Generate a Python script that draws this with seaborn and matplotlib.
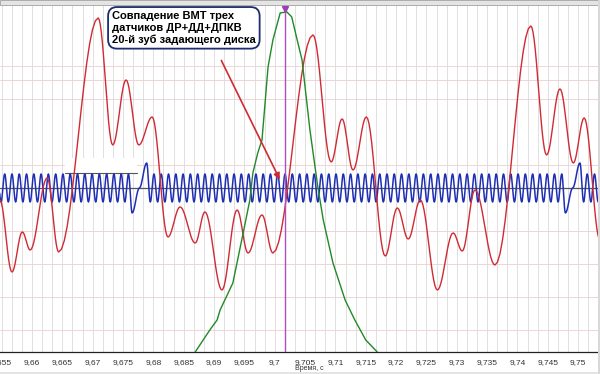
import numpy as np
import seaborn as sns
import matplotlib.pyplot as plt
from matplotlib.ticker import MultipleLocator, FuncFormatter
from matplotlib.patches import Rectangle

# red channel - turning points (time, s / level)
red_t = [9.6547, 9.6567, 9.6584, 9.6597, 9.6625, 9.6644, 9.6709, 9.6733, 9.6755, 9.6776,
         9.6798, 9.6824, 9.6844, 9.6869, 9.6885, 9.6913, 9.6938, 9.6956, 9.6979, 9.6997,
         9.7063, 9.7093, 9.7111, 9.7129, 9.7151, 9.7182, 9.7202, 9.7220, 9.7240, 9.7268,
         9.7294, 9.7309, 9.7330, 9.7363, 9.7422, 9.7448, 9.7470, 9.7492, 9.7510, 9.7536]
red_v = [-1.0, -4.6, -2.6, -3.5, 0.1, -3.6, 8.1, 1.75, 5.0, 1.75,
         3.15, -2.85, -1.35, -3.15, -1.6, -5.5, -1.5, -3.65, -1.75, -3.65,
         7.25, 0.9, 3.05, 0.5, 3.15, -3.8, -1.4, -2.95, -1.0, -5.5,
         -2.65, -3.55, -0.5, -4.25, 7.7, 1.25, 4.55, 0.85, 3.1, -3.0]

# green channel
green_t = [9.6869, 9.6893, 9.6905, 9.6910, 9.6931, 9.6948, 9.6959, 9.6964, 9.6972, 9.6979,
           9.6989, 9.6997, 9.7009, 9.7020, 9.7028, 9.7037, 9.7045, 9.7058, 9.7071, 9.7080,
           9.7096, 9.7116, 9.7132, 9.7150, 9.7169]
green_v = [-8.6, -7.5, -7.0, -6.5, -5.15, -2.65, -1.0, 0.35, 1.35, 2.0,
           5.65, 7.0, 8.35, 8.4, 8.15, 7.0, 6.0, 2.5, -0.35, -2.0,
           -4.15, -6.0, -7.0, -8.0, -8.6]

# blue channel (crank sensor) - tooth tops / bottoms and the missing-tooth spikes
blue_top_t = [9.6543, 9.6555, 9.6567, 9.6579, 9.6591, 9.6603, 9.6615, 9.6627, 9.6639, 9.6651,
              9.6663, 9.6675, 9.6687, 9.6699, 9.6711, 9.6723, 9.6735, 9.6747, 9.6759,
              9.6801, 9.6813, 9.6825, 9.6837, 9.6849, 9.6861, 9.6873, 9.6885, 9.6897, 9.6909,
              9.6921, 9.6933, 9.6945, 9.6957, 9.6969, 9.6981, 9.6993, 9.7005, 9.7017, 9.7029,
              9.7041, 9.7053, 9.7065, 9.7077, 9.7089, 9.7101, 9.7113, 9.7125, 9.7137, 9.7149,
              9.7161, 9.7173, 9.7185, 9.7197, 9.7209, 9.7221, 9.7233, 9.7245, 9.7257, 9.7269,
              9.7281, 9.7293, 9.7305, 9.7317, 9.7329, 9.7341, 9.7353, 9.7365, 9.7377, 9.7389,
              9.7401, 9.7413, 9.7425, 9.7437, 9.7449, 9.7461, 9.7473,
              9.7515, 9.7527, 9.7539]
blue_bottom_t = [9.6549, 9.6561, 9.6573, 9.6585, 9.6597, 9.6609, 9.6621, 9.6633, 9.6645, 9.6657,
                 9.6669, 9.6681, 9.6693, 9.6705, 9.6717, 9.6729, 9.6741, 9.6753,
                 9.6795, 9.6807, 9.6819, 9.6831, 9.6843, 9.6855, 9.6867, 9.6879, 9.6891, 9.6903,
                 9.6915, 9.6927, 9.6939, 9.6951, 9.6963, 9.6975, 9.6987, 9.6999, 9.7011, 9.7023,
                 9.7035, 9.7047, 9.7059, 9.7071, 9.7083, 9.7095, 9.7107, 9.7119, 9.7131, 9.7143,
                 9.7155, 9.7167, 9.7179, 9.7191, 9.7203, 9.7215, 9.7227, 9.7239, 9.7251, 9.7263,
                 9.7275, 9.7287, 9.7299, 9.7311, 9.7323, 9.7335, 9.7347, 9.7359, 9.7371, 9.7383,
                 9.7395, 9.7407, 9.7419, 9.7431, 9.7443, 9.7455, 9.7467,
                 9.7509, 9.7521, 9.7533]
blue_top_v = 0.3
blue_bottom_v = -1.1
blue_zero_v = -0.4
blue_spike_t = [9.6765, 9.6777, 9.6789, 9.7479, 9.7491, 9.7503]
blue_spike_v = [-1.65, -0.4, 0.85, -1.65, -0.4, 0.85]

pink_grid_v = [-7.5, -5.85, -4.2, -2.55, 0.75, 4.05, 5.0, 5.7]
cursor_t = 9.7017
note_lines = ["Совпадение ВМТ трех", "датчиков ДР+ДД+ДПКВ", "20-й зуб задающего диска"]


def smooth(t, v, n=14):
    # half-cosine between turning points, like the scope's own drawing
    t = np.asarray(t, float)
    v = np.asarray(v, float)
    s = np.linspace(0, 1, n, endpoint=False)
    w = (1 - np.cos(np.pi * s)) / 2
    tt = (t[:-1, None] + (t[1:] - t[:-1])[:, None] * s).ravel()
    vv = (v[:-1, None] + (v[1:] - v[:-1])[:, None] * w).ravel()
    return np.append(tt, t[-1]), np.append(vv, v[-1])


sns.set_style("white")
plt.rcParams['font.family'] = ['Liberation Sans', 'DejaVu Sans']

fig = plt.figure(figsize=(6, 3.74), dpi=100)
ax = fig.add_axes([0, 0.0588, 0.9967, 0.928])
ax.set_xlim(9.654726, 9.753277)
ax.set_ylim(-8.6, 8.75)

# grid
ax.xaxis.set_major_locator(MultipleLocator(0.005))
ax.xaxis.set_minor_locator(MultipleLocator(0.005 / 3))
ax.yaxis.set_major_locator(MultipleLocator(0.5))
ax.grid(which='both', axis='x', color='#dadada', lw=0.6, zorder=0)
ax.grid(which='major', axis='y', color='#e0e0e0', lw=0.6, zorder=0)
for pv in pink_grid_v:
    ax.axhline(pv, color='#f3d3d3', lw=0.7, zorder=0.5)
ax.set_axisbelow(True)

# white strip artefact on the left
ax.add_patch(Rectangle((9.66544, 0.35), 9.67730 - 9.66544, 0.75, facecolor='white',
                       edgecolor='none', zorder=1))
ax.plot([9.66544, 9.67730], [0.35, 0.35], color='#555555', lw=0.8, zorder=1.1)

# blue channel
bt = np.array(blue_top_t + blue_bottom_t + blue_spike_t)
bv = np.array([blue_top_v] * len(blue_top_t) + [blue_bottom_v] * len(blue_bottom_t) + blue_spike_v)
order = np.argsort(bt)
ax.axhline(blue_zero_v, color='#555555', lw=0.9, zorder=1.5)
xs, ys = smooth(bt[order], bv[order], n=8)
sns.lineplot(x=xs, y=ys, ax=ax, color='#1f2fb4', lw=1.1, estimator=None, sort=False, zorder=2)

# red channel
xs, ys = smooth(red_t, red_v)
sns.lineplot(x=xs, y=ys, ax=ax, color='#d02a32', lw=1.0, estimator=None, sort=False, zorder=3)

# green channel
sns.lineplot(x=green_t, y=green_v, ax=ax, color='#1f8a26', lw=1.0, estimator=None,
             sort=False, zorder=3.5)

# cursor
ax.axvline(cursor_t, color='#b050c0', lw=1.0, zorder=4)
ax.plot([cursor_t], [8.55], marker='v', color='#9a40b0', ms=5, clip_on=False, zorder=5)

# annotation
ax.annotate("", xy=(9.70103, -0.1), xytext=(9.69100, 6.1),
            arrowprops=dict(arrowstyle='-|>', color='#d02a32', lw=1.2, mutation_scale=9),
            zorder=6)
ax.text(9.67318, 8.45, "\n".join(note_lines), ha='left', va='top', fontsize=8,
        fontweight='bold', color='black', linespacing=1.2, zorder=7,
        bbox=dict(boxstyle='round,pad=0.35,rounding_size=0.8', fc='white', ec='#1c2c6e', lw=1.3))

# axes
for side in ['left', 'top', 'right']:
    ax.spines[side].set_visible(False)
ax.spines['bottom'].set_color('#222222')
ax.spines['bottom'].set_linewidth(0.9)
ax.set_yticks([])
ax.tick_params(axis='y', left=False, labelleft=False)
ax.tick_params(axis='x', which='major', direction='out', length=3, width=0.6,
               labelsize=6, labelcolor='#333333', pad=2)
ax.tick_params(axis='x', which='minor', direction='out', length=2, width=0.5)
ax.xaxis.set_major_formatter(FuncFormatter(
    lambda x, p: f"{x:.3f}".rstrip('0').rstrip('.').replace('.', ',')))
ax.set_xlabel("")
ax.text(0.517, -0.038, "Время, с", transform=ax.transAxes, fontsize=5, color='#333333',
        ha='center', va='top')

# window frame strips
fig.patches.append(Rectangle((0, 0.987), 1, 0.013, transform=fig.transFigure,
                             facecolor='#e4e4e4', edgecolor='#a0a0a0', lw=0.6))
fig.patches.append(Rectangle((0, 0), 1, 0.005, transform=fig.transFigure,
                             facecolor='#e4e4e4', edgecolor='none'))
fig.patches.append(Rectangle((0.9967, 0), 0.0033, 1, transform=fig.transFigure,
                             facecolor='#d8d8d8', edgecolor='none'))

fig.savefig("out.png", dpi=100)
